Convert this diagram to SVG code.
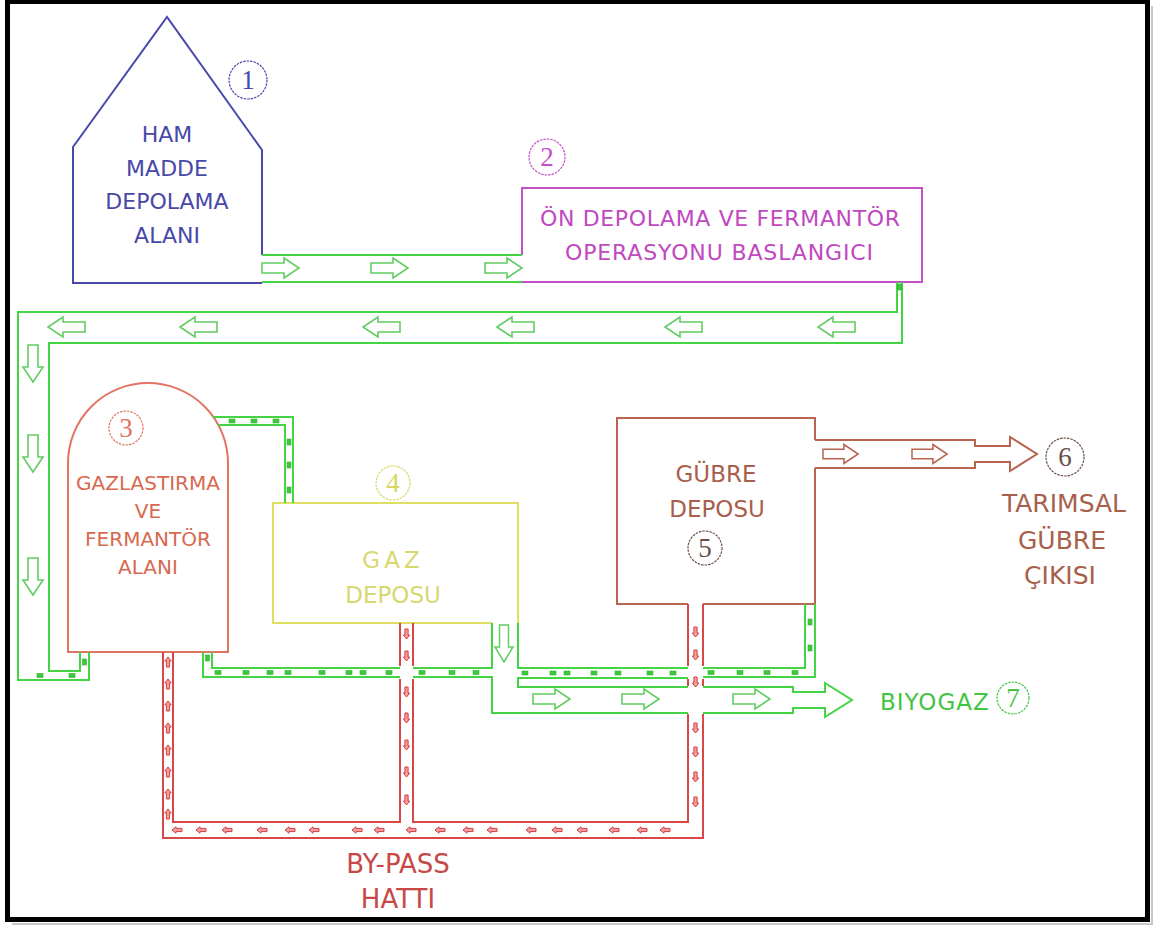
<svg xmlns="http://www.w3.org/2000/svg" xmlns:xlink="http://www.w3.org/1999/xlink" width="1155" height="925" viewBox="0 0 1155 925">
<style>
.ln{fill:none;stroke-width:2;stroke-linejoin:miter}
.g{stroke:#44d444}
.ga{fill:#fff;stroke:#62cc62;stroke-width:1.6}
.gd{fill:#3cc83c;stroke:#2fb52f;stroke-width:0.6}
.bl{stroke:#4848a8}
.mg{stroke:#c450c8}
.co{stroke:#e27464}
.ye{stroke:#dede60}
.br{stroke:#b86450}
.rd{stroke:#d84848}
.ra{fill:#f0a0a0;stroke:#d83c3c;stroke-width:1}
.ba{fill:#fff;stroke:#b86450;stroke-width:1.6}
.t{font-family:"DejaVu Sans","Liberation Sans",sans-serif;text-anchor:middle}
.num{font-family:"Liberation Serif","DejaVu Serif",serif;text-anchor:middle;font-size:27px}
.cir{fill:none;stroke-width:1.2;stroke-dasharray:2.5 1}
</style>
<defs>
<path id="arr" d="M0,-5 H22 V-10 L37,0 L22,10 V5 H0 Z"/>
<path id="sa" d="M-5,-1.6 H1 V-3.2 L5,0 L1,3.2 V1.6 H-5 Z"/>
<rect id="dh" x="-3" y="-2" width="6" height="4"/>
<rect id="dv" x="-2" y="-3" width="4" height="6"/>
</defs>
<rect width="1155" height="925" fill="#fff"/>
<polyline points="1152,6 1152,924 12,924" fill="none" stroke="#c8c8c8" stroke-width="2"/>
<rect x="7.5" y="1.5" width="1140" height="918" fill="none" stroke="#000" stroke-width="5"/>

<g id="node1">
<path class="ln bl" d="M262,255 V150 L167,17 L73,147 V283 H262"/>
<circle class="cir" cx="248" cy="80" r="19" stroke="#4848a8"/>
<text class="num" x="248" y="89" fill="#4848a8">1</text>
<g class="t" fill="#4848a8" font-size="22">
<text x="167" y="142">HAM</text>
<text x="167" y="176">MADDE</text>
<text x="167" y="209">DEPOLAMA</text>
<text x="167" y="243">ALANI</text>
</g>
</g>

<g id="node2">
<path class="ln mg" d="M522,255 V188 H922 V282 H522"/>
<circle class="cir" cx="547" cy="157" r="18" stroke="#c450c8"/>
<text class="num" x="547" y="166" fill="#c450c8">2</text>
<g class="t" fill="#c048c0" font-size="22">
<text x="720" y="226" textLength="360" lengthAdjust="spacing">ÖN DEPOLAMA VE FERMANTÖR</text>
<text x="719" y="260" textLength="308" lengthAdjust="spacing">OPERASYONU BASLANGICI</text>
</g>
</g>

<g id="node3">
<path class="ln co" d="M68,652 V463 A80,80 0 0 1 228,463 V652 Z"/>
<circle class="cir" cx="126" cy="428" r="17" stroke="#e27464"/>
<text class="num" x="126" y="437" fill="#e27464">3</text>
<g class="t" fill="#d8684e" font-size="20">
<text x="148" y="490">GAZLASTIRMA</text>
<text x="148" y="518">VE</text>
<text x="148" y="546">FERMANTÖR</text>
<text x="148" y="574">ALANI</text>
</g>
</g>

<g id="node4">
<path class="ln ye" d="M492,623 H273 V503 H518 V623"/>
<circle class="cir" cx="393" cy="483" r="17" stroke="#d6d660"/>
<text class="num" x="393" y="492" fill="#d6d660">4</text>
<g class="t" fill="#d8d870" font-size="23">
<text x="393" y="568" letter-spacing="4">GAZ</text>
<text x="393" y="603">DEPOSU</text>
</g>
</g>

<g id="node5">
<path class="ln br" d="M688,604 H617 V418 H815 V440 M815,468 V604 H703"/>
<circle class="cir" cx="705" cy="548" r="17" stroke="#6b5048"/>
<text class="num" x="705" y="557" fill="#6b5048">5</text>
<g class="t" fill="#a8604c" font-size="23">
<text x="716" y="482">GÜBRE</text>
<text x="717" y="517">DEPOSU</text>
</g>
</g>

<g id="node6">
<circle class="cir" cx="1065" cy="457" r="19" stroke="#6b5048"/>
<text class="num" x="1065" y="466" fill="#6b5048">6</text>
<g class="t" fill="#a8604c" font-size="25">
<text x="1064" y="512">TARIMSAL</text>
<text x="1062" y="549">GÜBRE</text>
<text x="1060" y="584">ÇIKISI</text>
</g>
</g>

<g id="node7">
<text x="880" y="710" font-family="DejaVu Sans, Liberation Sans, sans-serif" font-size="23" fill="#44c444" letter-spacing="1">BIYOGAZ</text>
<circle class="cir" cx="1013" cy="698" r="16" stroke="#44c444"/>
<text class="num" x="1013" y="707" fill="#44c444" font-size="25">7</text>
</g>

<g id="connectors">
<!-- 1 -> 2 -->
<path class="ln g" d="M262,255 H522 M262,282 H522"/>
<use href="#arr" xlink:href="#arr" class="ga" transform="translate(262,268)"/>
<use href="#arr" xlink:href="#arr" class="ga" transform="translate(371,268)"/>
<use href="#arr" xlink:href="#arr" class="ga" transform="translate(485,268)"/>

<!-- 2 -> 3 return -->
<path class="ln g" d="M897,282 V312 H18 V680 H89 V652 M902,282 V343 H49 V671 H80 V652"/>
<use href="#dv" xlink:href="#dv" class="gd" transform="translate(899.5,287)"/>
<use href="#arr" xlink:href="#arr" class="ga" transform="translate(855,327) scale(-1,1)"/>
<use href="#arr" xlink:href="#arr" class="ga" transform="translate(702,327) scale(-1,1)"/>
<use href="#arr" xlink:href="#arr" class="ga" transform="translate(534,327) scale(-1,1)"/>
<use href="#arr" xlink:href="#arr" class="ga" transform="translate(400,327) scale(-1,1)"/>
<use href="#arr" xlink:href="#arr" class="ga" transform="translate(217,327) scale(-1,1)"/>
<use href="#arr" xlink:href="#arr" class="ga" transform="translate(85,327) scale(-1,1)"/>
<use href="#arr" xlink:href="#arr" class="ga" transform="translate(33,345) rotate(90)"/>
<use href="#arr" xlink:href="#arr" class="ga" transform="translate(33,435) rotate(90)"/>
<use href="#arr" xlink:href="#arr" class="ga" transform="translate(33,558) rotate(90)"/>
<use href="#dh" xlink:href="#dh" class="gd" transform="translate(40,675.5)"/>
<use href="#dh" xlink:href="#dh" class="gd" transform="translate(72,675.5)"/>
<use href="#dv" xlink:href="#dv" class="gd" transform="translate(84.5,662)"/>

<!-- 3 -> 4 gas (top) -->
<path class="ln g" d="M213,417 H293 V503 M218,425 H285 V503"/>
<use href="#dh" xlink:href="#dh" class="gd" transform="translate(232,421)"/>
<use href="#dh" xlink:href="#dh" class="gd" transform="translate(254,421)"/>
<use href="#dh" xlink:href="#dh" class="gd" transform="translate(276,421)"/>
<use href="#dv" xlink:href="#dv" class="gd" transform="translate(289,442)"/>
<use href="#dv" xlink:href="#dv" class="gd" transform="translate(289,465)"/>
<use href="#dv" xlink:href="#dv" class="gd" transform="translate(289,490)"/>

<!-- bottom gas network -->
<path class="ln g" d="M203,652 V677 H400 M413,677 H492 V713 H688 M703,713 H793 V708 H825 V717 L852,700 L825,683 V692 H793 V687 H703 M212,652 V668 H400 M413,668 H492 V623 M518,623 V668 H688 M703,668 H805 V604 M688,678 H518 V687 H688 M703,677 H815 V604"/>
<use href="#arr" xlink:href="#arr" class="ga" transform="translate(504,625) rotate(90) scale(1,0.9)"/>
<use href="#arr" xlink:href="#arr" class="ga" transform="translate(533,699)"/>
<use href="#arr" xlink:href="#arr" class="ga" transform="translate(622,699)"/>
<use href="#arr" xlink:href="#arr" class="ga" transform="translate(733,699)"/>
<g class="gd">
<use href="#dv" xlink:href="#dv" transform="translate(207.5,658)"/>
<use href="#dh" xlink:href="#dh" transform="translate(218,672.5)"/>
<use href="#dh" xlink:href="#dh" transform="translate(246,672.5)"/>
<use href="#dh" xlink:href="#dh" transform="translate(270,672.5)"/>
<use href="#dh" xlink:href="#dh" transform="translate(288,672.5)"/>
<use href="#dh" xlink:href="#dh" transform="translate(322,672.5)"/>
<use href="#dh" xlink:href="#dh" transform="translate(349,672.5)"/>
<use href="#dh" xlink:href="#dh" transform="translate(363,672.5)"/>
<use href="#dh" xlink:href="#dh" transform="translate(389,672.5)"/>
<use href="#dh" xlink:href="#dh" transform="translate(422,672.5)"/>
<use href="#dh" xlink:href="#dh" transform="translate(452,672.5)"/>
<use href="#dh" xlink:href="#dh" transform="translate(476,672.5)"/>
<use href="#dh" xlink:href="#dh" transform="translate(525,673)"/>
<use href="#dh" xlink:href="#dh" transform="translate(553,673)"/>
<use href="#dh" xlink:href="#dh" transform="translate(567,673)"/>
<use href="#dh" xlink:href="#dh" transform="translate(594,673)"/>
<use href="#dh" xlink:href="#dh" transform="translate(618,673)"/>
<use href="#dh" xlink:href="#dh" transform="translate(650,673)"/>
<use href="#dh" xlink:href="#dh" transform="translate(673,673)"/>
<use href="#dh" xlink:href="#dh" transform="translate(711,672.5)"/>
<use href="#dh" xlink:href="#dh" transform="translate(740,672.5)"/>
<use href="#dh" xlink:href="#dh" transform="translate(767,672.5)"/>
<use href="#dh" xlink:href="#dh" transform="translate(795,672.5)"/>
<use href="#dv" xlink:href="#dv" transform="translate(810,622)"/>
<use href="#dv" xlink:href="#dv" transform="translate(810,648)"/>
</g>

<!-- 5 -> 6 -->
<path class="ln br" d="M815,440 H975 V446 H1010 V437 L1037,454 L1010,471 V462 H975 V468 H815"/>
<use href="#arr" xlink:href="#arr" class="ba" transform="translate(823,454) scale(0.95)"/>
<use href="#arr" xlink:href="#arr" class="ba" transform="translate(912,454) scale(0.95)"/>

<!-- by-pass -->
<path class="ln rd" d="M163,652 V838 H703 V714 M703,686 V679 M703,666 V604 M688,604 V666 M688,679 V686 M688,714 V822 H413 V679 M413,666 V623 M400,623 V666 M400,679 V822 H173 V652"/>
<g class="ra">
<use href="#sa" xlink:href="#sa" transform="translate(168,662) rotate(-90)"/>
<use href="#sa" xlink:href="#sa" transform="translate(168,684) rotate(-90)"/>
<use href="#sa" xlink:href="#sa" transform="translate(168,706) rotate(-90)"/>
<use href="#sa" xlink:href="#sa" transform="translate(168,728) rotate(-90)"/>
<use href="#sa" xlink:href="#sa" transform="translate(168,750) rotate(-90)"/>
<use href="#sa" xlink:href="#sa" transform="translate(168,772) rotate(-90)"/>
<use href="#sa" xlink:href="#sa" transform="translate(168,794) rotate(-90)"/>
<use href="#sa" xlink:href="#sa" transform="translate(168,814) rotate(-90)"/>
<use href="#sa" xlink:href="#sa" transform="translate(406.5,634) rotate(90)"/>
<use href="#sa" xlink:href="#sa" transform="translate(406.5,656) rotate(90)"/>
<use href="#sa" xlink:href="#sa" transform="translate(406.5,692) rotate(90)"/>
<use href="#sa" xlink:href="#sa" transform="translate(406.5,718) rotate(90)"/>
<use href="#sa" xlink:href="#sa" transform="translate(406.5,745) rotate(90)"/>
<use href="#sa" xlink:href="#sa" transform="translate(406.5,772) rotate(90)"/>
<use href="#sa" xlink:href="#sa" transform="translate(406.5,800) rotate(90)"/>
<use href="#sa" xlink:href="#sa" transform="translate(695.5,632) rotate(90)"/>
<use href="#sa" xlink:href="#sa" transform="translate(695.5,655) rotate(90)"/>
<use href="#sa" xlink:href="#sa" transform="translate(695.5,682) rotate(90)"/>
<use href="#sa" xlink:href="#sa" transform="translate(695.5,728) rotate(90)"/>
<use href="#sa" xlink:href="#sa" transform="translate(695.5,752) rotate(90)"/>
<use href="#sa" xlink:href="#sa" transform="translate(695.5,777) rotate(90)"/>
<use href="#sa" xlink:href="#sa" transform="translate(695.5,802) rotate(90)"/>
<use href="#sa" xlink:href="#sa" transform="translate(177,830) scale(-1,1)"/>
<use href="#sa" xlink:href="#sa" transform="translate(201,830) scale(-1,1)"/>
<use href="#sa" xlink:href="#sa" transform="translate(227,830) scale(-1,1)"/>
<use href="#sa" xlink:href="#sa" transform="translate(262,830) scale(-1,1)"/>
<use href="#sa" xlink:href="#sa" transform="translate(290,830) scale(-1,1)"/>
<use href="#sa" xlink:href="#sa" transform="translate(314,830) scale(-1,1)"/>
<use href="#sa" xlink:href="#sa" transform="translate(357,830) scale(-1,1)"/>
<use href="#sa" xlink:href="#sa" transform="translate(379,830) scale(-1,1)"/>
<use href="#sa" xlink:href="#sa" transform="translate(411,830) scale(-1,1)"/>
<use href="#sa" xlink:href="#sa" transform="translate(440,830) scale(-1,1)"/>
<use href="#sa" xlink:href="#sa" transform="translate(468,830) scale(-1,1)"/>
<use href="#sa" xlink:href="#sa" transform="translate(492,830) scale(-1,1)"/>
<use href="#sa" xlink:href="#sa" transform="translate(531,830) scale(-1,1)"/>
<use href="#sa" xlink:href="#sa" transform="translate(557,830) scale(-1,1)"/>
<use href="#sa" xlink:href="#sa" transform="translate(582,830) scale(-1,1)"/>
<use href="#sa" xlink:href="#sa" transform="translate(614,830) scale(-1,1)"/>
<use href="#sa" xlink:href="#sa" transform="translate(642,830) scale(-1,1)"/>
<use href="#sa" xlink:href="#sa" transform="translate(665,830) scale(-1,1)"/>
</g>
</g>

<g id="bypass-label" class="t" fill="#c84848" font-size="26">
<text x="398" y="873">BY-PASS</text>
<text x="398" y="908">HATTI</text>
</g>
</svg>
